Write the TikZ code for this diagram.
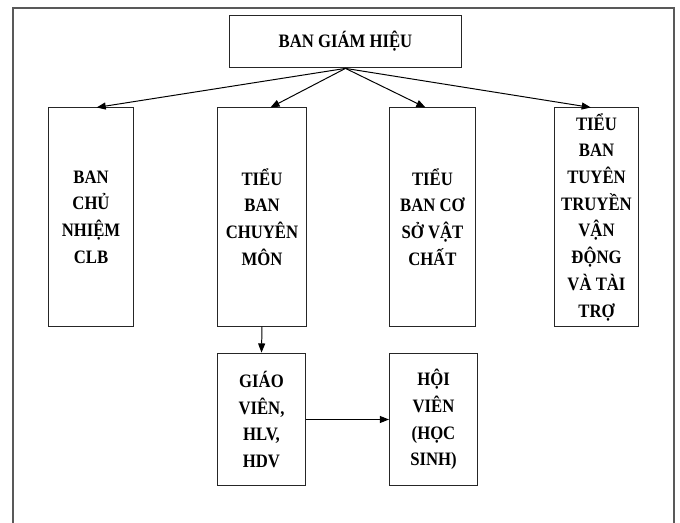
\documentclass[tikz,border=0pt]{standalone}
\usepackage{fontspec}
\setmainfont{Liberation Serif}[FakeStretch=0.88]
\usetikzlibrary{arrows.meta,positioning}

\begin{document}
\begin{tikzpicture}[x=0.025cm, y=-0.025cm,
	box/.style={draw=black!85, line width=0.7pt, align=center, inner sep=0pt,
		font=\bfseries\fontsize{13.5}{19}\selectfont},
	tallbox/.style={box, minimum height=5.45cm},
	lowbox/.style={box, minimum width=2.2cm, minimum height=3.32cm},
	link/.style={-{Triangle[length=6.5pt,width=5pt]}, line width=0.7pt}]
		\useasboundingbox (0,0) rectangle (680,523);
		\draw[line width=1.4pt, black!65] (13,523)--(13,8)--(674,8)--(674,523);
		% top
		\node[box, minimum width=5.8cm, minimum height=1.32cm] (bgh) at (345.5, 41.5) {BAN GIÁM HIỆU};
		% second row
		\node[tallbox, minimum width=2.1cm] (clb) at (91, 217) {BAN\\CHỦ\\NHIỆM\\CLB};
		\node[tallbox, minimum width=2.2cm] (cm) at (262, 217) {TIỂU\\BAN\\CHUYÊN\\MÔN};
		\node[tallbox, minimum width=2.17cm] (csvc) at (432.5, 217) {TIỂU\\BAN CƠ\\SỞ VẬT\\CHẤT};
		\node[tallbox, minimum width=2.12cm] (tt) at (596.5, 217) {TIỂU\\BAN\\TUYÊN\\TRUYỀN\\VẬN\\ĐỘNG\\VÀ TÀI\\TRỢ};
		% third row
		\node[lowbox] (gv) at (261.5, 419.5) {GIÁO\\VIÊN,\\HLV,\\HDV};
		\node[lowbox] (hv) at (433.5, 419.5) {HỘI\\VIÊN\\(HỌC\\SINH)};
		\draw[link] (bgh.south)--([xshift=4]clb.north);
		\draw[link] (bgh.south)--([xshift=6]cm.north);
		\draw[link] (bgh.south)--([xshift=-5]csvc.north);
		\draw[link] (bgh.south)--([xshift=-4]tt.north);
		\draw[link] (cm.south)--(gv.north);
		\draw[link] (gv)--(hv);
\end{tikzpicture}
\end{document}
